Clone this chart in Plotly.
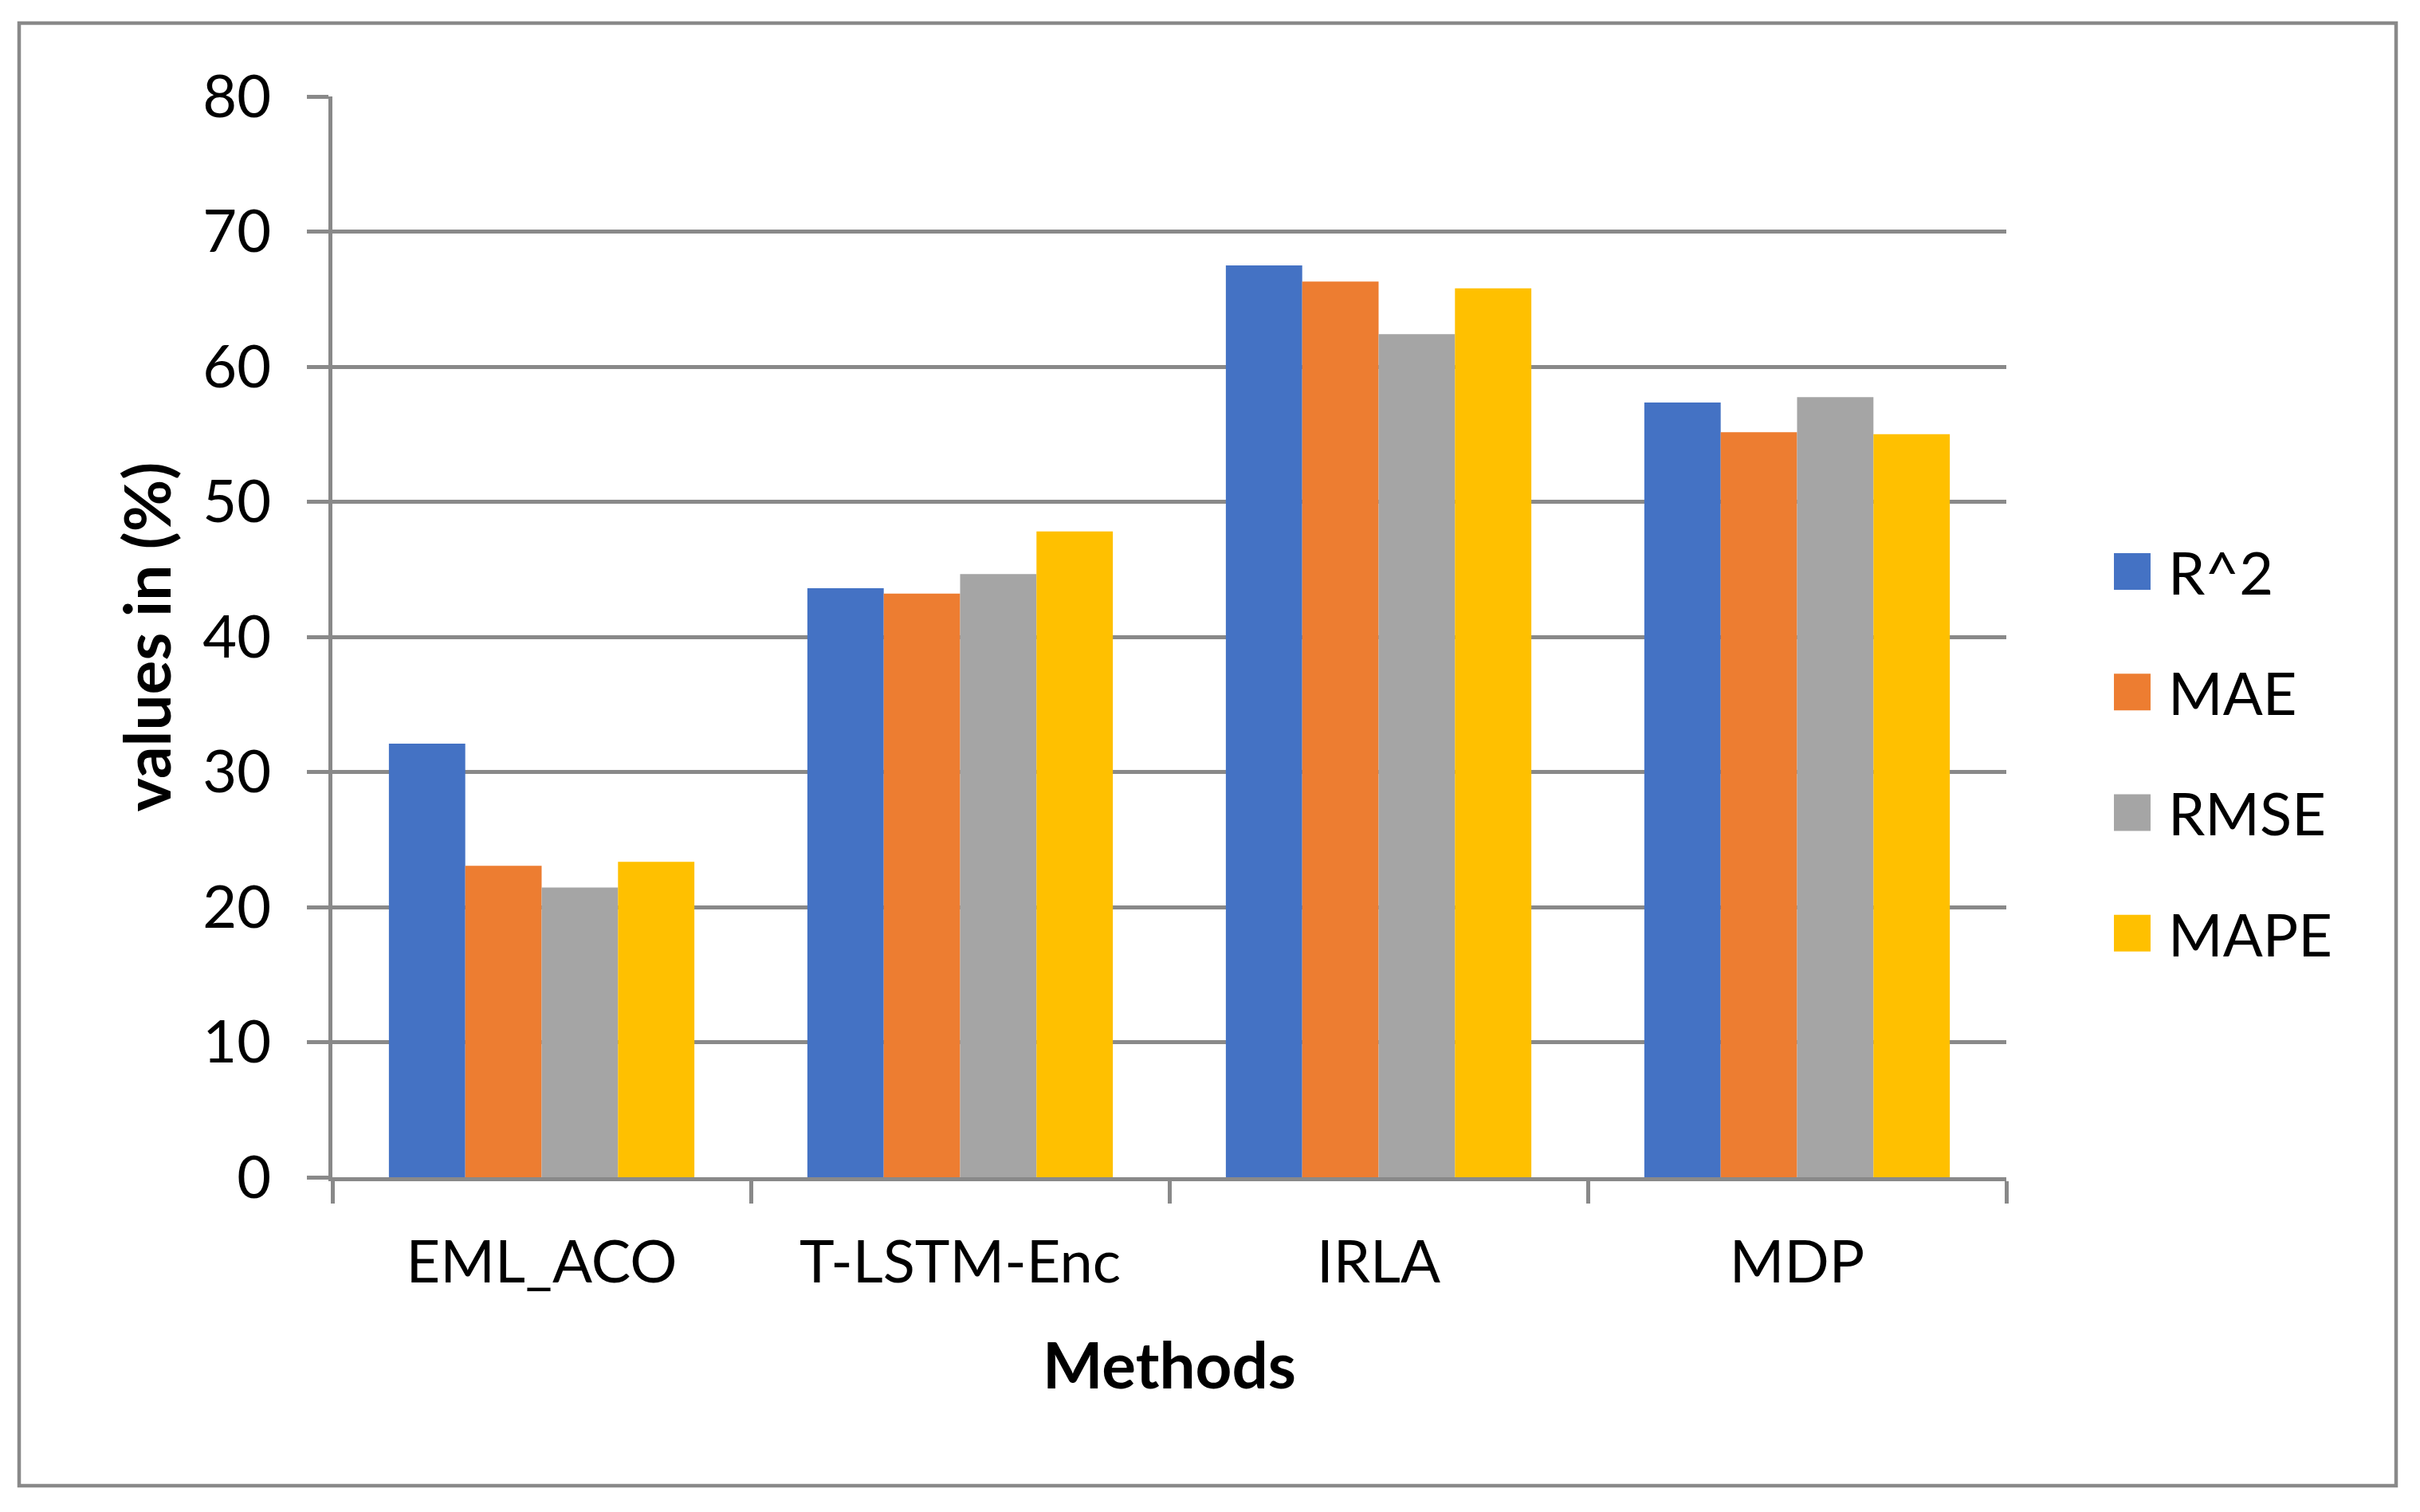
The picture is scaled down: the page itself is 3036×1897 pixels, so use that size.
import plotly.graph_objects as go

methods = ["EML_ACO", "T-LSTM-Enc", "IRLA", "MDP"]
series_names = ["R^2", "MAE", "RMSE", "MAPE"]
r2_vals = [32.1, 43.6, 67.5, 57.35]
mae_vals = [23.05, 43.2, 66.3, 55.15]
rmse_vals = [21.45, 44.65, 62.4, 57.75]
mape_vals = [23.35, 47.8, 65.8, 55.0]
y_ticks = [0, 10, 20, 30, 40, 50, 60, 70, 80]

colors = ["#4472C4", "#ED7D31", "#A5A5A5", "#FFC000"]
all_vals = [r2_vals, mae_vals, rmse_vals, mape_vals]

FONT = "Lato"
GRID = "#898989"
W, H = 3036, 1897
ML, MR, MT, MB = 417, 519, 121, 420
PW, PH = W - ML - MR, H - MT - MB

fig = go.Figure()
for name, vals, c in zip(series_names, all_vals, colors):
    fig.add_trace(go.Bar(x=methods, y=vals, name=name, marker_color=c,
                         marker_line_width=0, legendgroup=name))

def px_x(p):
    return (p - ML) / PW

def px_y(p):
    return (H - MB - p) / PH

fig.update_layout(
    width=W, height=H,
    margin=dict(l=ML, r=MR, t=MT, b=MB),
    paper_bgcolor="white", plot_bgcolor="white",
    barmode="group", bargap=0.27, bargroupgap=0,
    font=dict(family=FONT, size=74, color="black"),
    legend=dict(x=px_x(2630), xanchor="left", y=px_y(944), yanchor="middle",
                font=dict(size=74, family=FONT), itemwidth=80,
                tracegroupgap=52, bgcolor="rgba(0,0,0,0)"),
    shapes=[dict(type="rect", xref="paper", yref="paper",
                 x0=px_x(24), x1=px_x(3006), y0=px_y(1864), y1=px_y(29),
                 line=dict(color=GRID, width=4.5), layer="below")],
)
fig.update_yaxes(range=[0, 80], tickvals=y_ticks, showgrid=True, gridcolor=GRID,
                 gridwidth=5, zeroline=False, showline=True, linecolor=GRID,
                 linewidth=5, ticks="outside", ticklen=27, tickwidth=5,
                 tickcolor=GRID, ticklabelstandoff=30,
                 tickfont=dict(size=74, family=FONT),
                 title=dict(text="<b>values in (%)</b>", font=dict(size=80, family=FONT),
                            standoff=15))
fig.update_xaxes(showline=True, linecolor=GRID, linewidth=5, ticks="outside",
                 tickson="boundaries", ticklen=28, tickwidth=5, tickcolor=GRID,
                 ticklabelstandoff=38, tickfont=dict(size=74, family=FONT),
                 title=dict(text="<b>Methods</b>", font=dict(size=80, family=FONT),
                            standoff=64))

post = """
document.body.style.margin = '0';
var gd = document.getElementById('{plot_id}');
gd.querySelectorAll('.legend .legendpoints path').forEach(function(p){
  var t = p.getAttribute('transform') || '';
  p.setAttribute('transform', t + ' scale(3.83)');
});
"""
fig.write_html("out.html", post_script=post,
               config={"responsive": False, "displayModeBar": False})
